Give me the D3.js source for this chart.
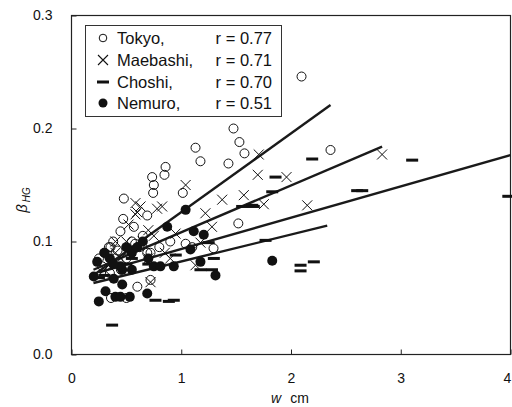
<!DOCTYPE html>
<html><head><meta charset="utf-8">
<script src="https://cdn.jsdelivr.net/npm/d3@7"></script>
<style>body{margin:0;background:#fff} svg text{font-family:"Liberation Sans",Arial,sans-serif;fill:#111}</style>
</head><body><svg id="c" width="512" height="407"></svg>
<script>
const xTicks=[0,1,2,3,4];
const yTicks=[0,0.1,0.2,0.3];
const seriesNames=["Tokyo,","Maebashi,","Choshi,","Nemuro,"];
const rLabels=["r = 0.77","r = 0.71","r = 0.70","r = 0.51"];
const tokyo=[[0.735,0.157],[0.75,0.15],[0.744,0.143],[0.857,0.166],[0.847,0.159],[0.477,0.138],[0.471,0.120],[0.446,0.109],[0.568,0.113],[1.014,0.143],[0.34,0.095],[0.69,0.123],[1.13,0.183],[1.175,0.171],[1.476,0.200],[1.53,0.188],[1.576,0.178],[1.43,0.169],[1.52,0.116],[1.294,0.094],[2.096,0.246],[2.36,0.181],[0.25,0.085],[0.3,0.09],[0.38,0.1],[0.55,0.1],[0.62,0.095],[0.9,0.1],[1.1,0.095],[0.45,0.075],[0.6,0.06],[0.28,0.078],[0.33,0.088],[0.42,0.092],[0.5,0.085],[0.58,0.098],[0.65,0.105],[0.72,0.09],[0.8,0.095],[0.35,0.072],[0.69,0.09],[1.04,0.098],[0.72,0.066],[0.355,0.095],[0.36,0.05],[0.5,0.05]];
const maebashi=[[1.706,0.177],[1.697,0.159],[1.959,0.157],[1.57,0.141],[1.373,0.137],[1.752,0.133],[2.148,0.132],[2.83,0.177],[0.598,0.126],[0.629,0.131],[0.78,0.129],[1.04,0.15],[0.948,0.107],[1.28,0.113],[0.826,0.131],[1.22,0.125],[1.175,0.099],[0.583,0.134],[0.583,0.124],[0.4,0.09],[0.5,0.1],[0.7,0.11],[0.35,0.08],[0.9,0.085],[0.3,0.075],[0.45,0.085],[0.55,0.095],[0.65,0.1],[0.75,0.105],[0.85,0.09],[0.4,0.1],[0.52,0.115],[0.7,0.085],[0.72,0.064],[1.13,0.079]];
const choshi=[[0.37,0.026],[0.765,0.048],[0.887,0.047],[0.932,0.048],[1.297,0.085],[1.175,0.075],[2.087,0.079],[2.208,0.082],[2.087,0.074],[1.768,0.101],[1.555,0.131],[1.661,0.131],[1.859,0.157],[2.193,0.173],[2.603,0.145],[1.829,0.144],[1.647,0.132],[2.649,0.145],[3.104,0.172],[3.98,0.14],[0.3,0.07],[0.5,0.08],[0.25,0.068],[0.55,0.085],[0.7,0.08],[0.95,0.088],[1.25,0.099],[1.28,0.075]];
const nemuro=[[1.04,0.128],[0.872,0.113],[1.114,0.109],[1.205,0.106],[1.829,0.083],[1.312,0.070],[1.084,0.093],[1.175,0.082],[0.932,0.078],[0.75,0.078],[0.69,0.054],[0.234,0.082],[0.203,0.069],[0.31,0.056],[0.249,0.047],[0.40,0.051],[0.446,0.051],[0.531,0.051],[0.462,0.062],[0.462,0.075],[0.385,0.067],[0.446,0.078],[0.81,0.078],[0.35,0.085],[0.55,0.09],[0.6,0.095],[0.3,0.09],[0.5,0.095],[0.65,0.1],[0.38,0.08],[0.55,0.075],[0.7,0.085]];
const fitTokyo=[[0.2,0.0702],[2.36,0.2208]];
const fitMaebashi=[[0.2,0.075],[2.83,0.184]];
const fitChoshi=[[0.25,0.0726],[4,0.1765]];
const fitNemuro=[[0.2,0.0633],[2.33,0.114]];

const svg=d3.select("#c");
const x=d3.scaleLinear().domain([0,4]).range([71.5,510.5]);
const y=d3.scaleLinear().domain([0,0.3]).range([354.5,15.5]);

svg.append("rect").attr("x",71.5).attr("y",15.5).attr("width",439).attr("height",339)
  .attr("fill","none").attr("stroke","#222").attr("stroke-width",1.2);

const gx=svg.append("g").attr("transform","translate(0,354.5)")
  .call(d3.axisBottom(x).tickValues(xTicks).tickFormat(d3.format("d")).tickSizeInner(-5).tickSizeOuter(0).tickPadding(19));
const gy=svg.append("g").attr("transform","translate(71.5,0)")
  .call(d3.axisLeft(y).tickValues(yTicks).tickFormat(d3.format(".1f")).tickSizeInner(-5).tickSizeOuter(0).tickPadding(19));
[gx,gy].forEach(g=>{g.select(".domain").remove();g.selectAll("line").attr("stroke","#222");g.selectAll("text").attr("font-size",14).attr("font-family","Liberation Sans, Arial, sans-serif").attr("fill","#111");});
gx.selectAll(".tick text").filter(d=>d===4).attr("dx",-3.5);

// axis titles
const xt=svg.append("text").attr("x",290).attr("y",403).attr("text-anchor","middle").attr("font-size",14);
xt.append("tspan").attr("font-style","italic").text("w");
xt.append("tspan").attr("dx",9).text("cm");
const yt=svg.append("text").attr("transform","translate(27,200) rotate(-90)").attr("text-anchor","middle").attr("font-size",15);
yt.append("tspan").attr("font-style","italic").text("β");
yt.append("tspan").attr("font-size",10).attr("font-style","italic").attr("dy",3).attr("dx",2).text("HG");

// fit lines
const line=d3.line().x(d=>x(d[0])).y(d=>y(d[1]));
[fitTokyo,fitMaebashi,fitChoshi,fitNemuro].forEach(f=>{
  svg.append("path").attr("d",line(f)).attr("fill","none").attr("stroke","#1a1a1a").attr("stroke-width",2.4);
});

const cross=s=>`M${-s},${-s}L${s},${s}M${-s},${s}L${s},${-s}`;
function drawTokyo(g,data,r){g.selectAll(null).data(data).join("circle").attr("cx",d=>x(d[0])).attr("cy",d=>y(d[1])).attr("r",r).attr("fill","none").attr("stroke","#111").attr("stroke-width",1);}
function drawMaebashi(g,data,s){g.selectAll(null).data(data).join("path").attr("transform",d=>`translate(${x(d[0])},${y(d[1])})`).attr("d",cross(s)).attr("stroke","#111").attr("stroke-width",1).attr("fill","none");}
function drawChoshi(g,data){g.selectAll(null).data(data).join("rect").attr("x",d=>x(d[0])-6).attr("y",d=>y(d[1])-1.5).attr("width",12).attr("height",3).attr("fill","#111");}
function drawNemuro(g,data,r){g.selectAll(null).data(data).join("circle").attr("cx",d=>x(d[0])).attr("cy",d=>y(d[1])).attr("r",r).attr("fill","#111");}

drawChoshi(svg.append("g"),choshi);
drawMaebashi(svg.append("g"),maebashi,5);
drawTokyo(svg.append("g"),tokyo,4.5);
drawNemuro(svg.append("g"),nemuro,5);

// legend
const lg=svg.append("g");
lg.append("rect").attr("x",85.5).attr("y",25.5).attr("width",196).attr("height",91).attr("fill","#fff").attr("stroke","#333").attr("stroke-width",1);
const rowsY=[38,60,82,103];
lg.append("circle").attr("cx",103).attr("cy",rowsY[0]).attr("r",3.8).attr("fill","none").attr("stroke","#111").attr("stroke-width",1);
lg.append("path").attr("transform",`translate(103,${rowsY[1]})`).attr("d",cross(5)).attr("stroke","#111").attr("stroke-width",1.1);
lg.append("rect").attr("x",97).attr("y",rowsY[2]-1.5).attr("width",12).attr("height",3).attr("fill","#111");
lg.append("circle").attr("cx",103).attr("cy",rowsY[3]).attr("r",4.5).attr("fill","#111");
seriesNames.forEach((n,i)=>{
  lg.append("text").attr("x",117).attr("y",rowsY[i]+6).attr("font-size",16.5).text(n);
  lg.append("text").attr("x",272).attr("y",rowsY[i]+6).attr("text-anchor","end").attr("font-size",16.5).text(rLabels[i]);
});
</script></body></html>
